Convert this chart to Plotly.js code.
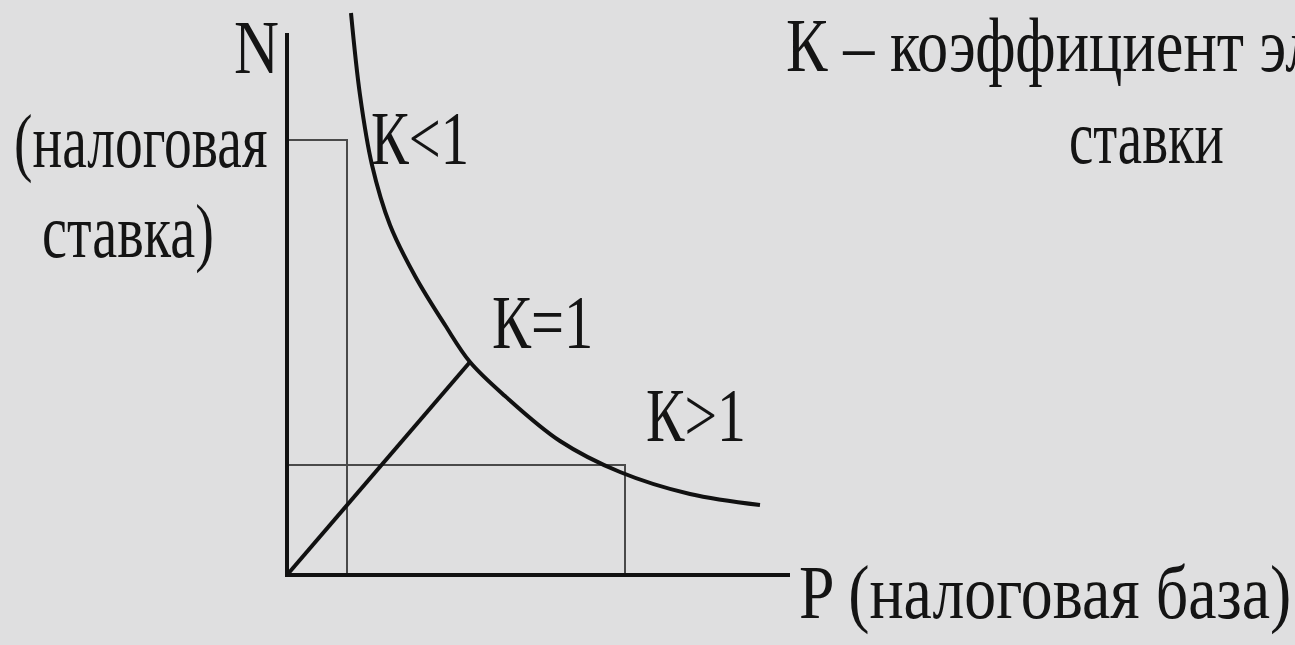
<!DOCTYPE html>
<html>
<head>
<meta charset="utf-8">
<script src="https://cdn.plot.ly/plotly-3.0.1.min.js"></script>
<style>
  html, body { margin: 0; padding: 0; background: #dfdfe0; }
  #chart { width: 1295px; height: 645px; }
</style>
</head>
<body>
<div id="chart"></div>
<script>
// curve N(P) (1 unit = 50 px)
const curve_p = [1.28, 1.46, 1.7, 2.06, 2.56, 3.16, 3.66, 4.36, 5.46, 6.66, 8.06, 9.46]
const curve_n = [11.24, 9.6, 8.2, 7.0, 5.98, 5.0, 4.26, 3.58, 2.68, 2.06, 1.62, 1.4]

// ray from origin to the K=1 point
const ray_p = [0, 3.66]
const ray_n = [0, 4.26]

// the two thin rectangles
const rect1_p = [0, 1.2, 1.2]
const rect1_n = [8.7, 8.7, 0]
const rect2_p = [0, 6.76, 6.76]
const rect2_n = [2.2, 2.2, 0]

// axes
const axis_p = [0, 0, 10.06]
const axis_n = [10.84, 0, 0]

const font_main = 'Liberation Serif, Times New Roman, serif'
const text_size = 76

function line_trace(x, y, width, color, shape) {
    return {
        x: x,
        y: y,
        mode: 'lines',
        type: 'scatter',
        hoverinfo: 'skip',
        line: { color: color, width: width, shape: shape || 'linear', smoothing: 1 }
    }
}

// the scanned type is narrow, so every label gets squeezed horizontally after drawing
var squeeze = []
function label(text, x, y, sx) {
    squeeze.push(sx)
    return {
        text: text,
        x: x,
        y: y,
        xref: 'x',
        yref: 'y',
        xanchor: 'left',
        yanchor: 'middle',
        showarrow: false,
        font: { family: font_main, size: text_size, color: '#141414' }
    }
}

let data = [
    line_trace(rect1_p, rect1_n, 2, '#4a4a4a'),
    line_trace(rect2_p, rect2_n, 2, '#4a4a4a'),
    line_trace(ray_p, ray_n, 4, '#111'),
    line_trace(curve_p, curve_n, 4, '#111', 'spline'),
    line_trace(axis_p, axis_n, 4, '#111')
]

let layout = {
    width: 1295,
    height: 645,
    margin: { l: 0, r: 0, t: 0, b: 0 },
    paper_bgcolor: '#dfdfe0',
    plot_bgcolor: '#dfdfe0',
    showlegend: false,
    xaxis: { range: [-5.74, 20.16], visible: false, fixedrange: true },
    yaxis: { range: [-1.4, 11.5], visible: false, fixedrange: true },
    annotations: [
        label('N', -1.1, 10.56, 0.82),
        label('(налоговая', -5.5, 8.67, 0.73),
        label('ставка)', -4.94, 6.87, 0.74),
        label('К<1', 1.64, 8.74, 0.745),
        label('К=1', 4.06, 5.06, 0.77),
        label('К>1', 7.14, 3.21, 0.76),
        label('К – коэффициент эла', 9.94, 10.6, 0.82),
        label('ставки', 15.6, 8.77, 0.72),
        label('P (налоговая база)', 10.2, -0.34, 0.84)
    ]
}

Plotly.newPlot('chart', data, layout, { displayModeBar: false, staticPlot: true }).then(function (gd) {
    let texts = gd.querySelectorAll('.annotation-text')
    texts.forEach(function (t, i) {
        t.style.transformBox = 'fill-box'
        t.style.transformOrigin = '0 50%'
        t.style.transform = 'scaleX(' + squeeze[i] + ')'
    })
})
</script>
</body>
</html>
